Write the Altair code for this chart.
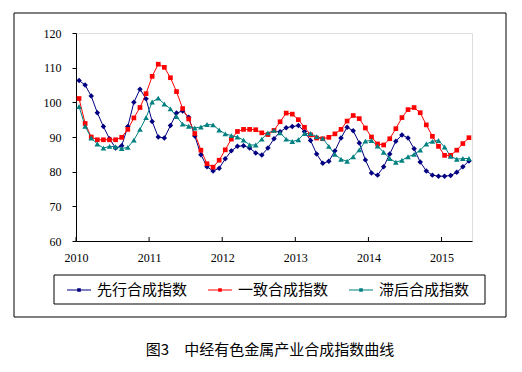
import altair as alt
import pandas as pd

years = ["2010", "2011", "2012", "2013", "2014", "2015"]
series_names = ["先行合成指数", "一致合成指数", "滞后合成指数"]
colors = ["#000080", "#FF0000", "#008080"]
shapes = ["diamond", "square", "triangle-up"]
marker_sizes = [30, 22, 32]

lead = [106.3, 105.0, 101.8, 97.0, 93.0, 89.5, 86.8, 87.5, 93.0, 100.0, 103.8, 101.0,
        94.5, 90.0, 89.7, 93.3, 96.9, 97.5, 95.7, 90.3, 84.9, 81.4, 80.2, 81.0,
        83.7, 86.0, 87.3, 87.5, 86.8, 85.4, 84.8, 86.8, 89.5, 91.5, 92.7, 93.0,
        93.3, 91.6, 89.0, 85.1, 82.4, 83.0, 86.0, 89.7, 92.8, 91.8, 88.3, 83.4,
        79.6, 79.0, 81.4, 85.1, 88.8, 90.6, 89.7, 86.6, 82.8, 80.2, 79.0, 78.7,
        78.7, 78.9, 79.8, 81.4, 83.1]
coincident = [101.1, 93.9, 90.0, 89.2, 89.2, 89.2, 89.2, 89.9, 92.2, 95.5, 98.5, 102.5,
              107.5, 111.0, 110.1, 107.1, 103.1, 98.2, 95.2, 91.0, 86.2, 82.3, 81.3, 83.3,
              86.3, 89.4, 91.6, 92.2, 92.2, 92.1, 91.2, 90.7, 91.9, 94.4, 96.9, 96.6,
              95.0, 92.8, 90.6, 89.7, 89.5, 89.9, 90.9, 92.2, 94.6, 96.2, 95.3, 92.6,
              90.0, 88.0, 87.7, 89.5, 92.4, 95.6, 97.9, 98.5, 97.0, 93.5, 90.2, 87.3,
              84.7, 84.7, 86.2, 88.1, 89.8]
lag = [98.8, 93.1, 89.7, 88.0, 86.8, 87.3, 87.2, 86.7, 87.0, 89.1, 92.2, 95.6,
       100.1, 101.2, 99.5, 98.1, 95.9, 93.7, 93.1, 92.6, 92.9, 93.6, 93.5, 92.0,
       90.9, 90.4, 90.0, 89.1, 87.7, 87.7, 89.4, 91.2, 91.9, 91.2, 89.4, 88.7,
       89.2, 91.0, 91.0, 90.1, 89.6, 87.3, 85.0, 83.6, 83.0, 84.3, 86.3, 88.8,
       89.0, 87.4, 85.6, 83.8, 82.7, 83.3, 84.3, 85.0, 86.2, 88.0, 88.75, 89.0,
       87.1, 84.4, 83.6, 83.8, 83.8]

y_ticks = [60, 70, 80, 90, 100, 110, 120]
n = len(lead)

rows = []
for name, vals in zip(series_names, [lead, coincident, lag]):
    for i, v in enumerate(vals):
        rows.append({"t": i + 0.5, "series": name, "value": v})
df = pd.DataFrame(rows)
year_pos = pd.DataFrame({"p": [12 * k for k in range(len(years))]})
one = pd.DataFrame({"k": [0]})

W, H = 396, 208
FONT = "Liberation Serif"
CJK = "Noto Sans CJK SC"

xscale = alt.Scale(domain=[0, n], nice=False, zero=False)
yscale = alt.Scale(domain=[60, 120], nice=False, zero=False)

legend = alt.Legend(
    title=None, orient="none", legendX=-10, legendY=244, direction="horizontal",
    columns=3, columnPadding=17, padding=0,
    symbolType="M-1,0H1M-0.1,-0.1H0.1V0.1H-0.1Z", symbolSize=576,
    symbolStrokeWidth=1.2, labelFont=CJK, labelFontSize=15, labelColor="black",
    labelOffset=5, labelLimit=200,
)
color = alt.Color("series:N", scale=alt.Scale(domain=series_names, range=colors),
                  legend=legend)

x_axis = alt.Axis(values=[12 * k for k in range(len(years))],
                  labelExpr="'' + (2010 + datum.value / 12)",
                  title=None, ticks=False, grid=False, labelPadding=11,
                  labelFont=FONT, labelFontSize=12, labelColor="black",
                  domainColor="black", labelFlush=False, labelOverlap=False)
y_axis = alt.Axis(values=y_ticks, title=None, grid=False, tickSize=4,
                  labelPadding=11, labelFont=FONT, labelFontSize=12,
                  labelColor="black", domainColor="black", tickColor="black",
                  labelOverlap=False)

base = alt.Chart(df)
lines = base.mark_line(strokeWidth=1).encode(
    x=alt.X("t:Q", scale=xscale, axis=x_axis),
    y=alt.Y("value:Q", scale=yscale, axis=y_axis),
    color=color,
)
point_layers = []
for name, col, shp, sz in zip(series_names, colors, shapes, marker_sizes):
    point_layers.append(
        base.transform_filter(alt.datum.series == name)
        .mark_point(filled=True, opacity=1, strokeWidth=0, shape=shp, size=sz, fill=col)
        .encode(
            x=alt.X("t:Q", scale=xscale, axis=x_axis),
            y=alt.Y("value:Q", scale=yscale, axis=y_axis),
        )
    )
xticks = alt.Chart(year_pos).mark_rule(color="black", strokeWidth=1).encode(
    x=alt.X("p:Q", scale=xscale, axis=x_axis),
    y=alt.value(H),
    y2=alt.value(H - 4),
)
frame = alt.Chart(one).mark_rect(fillOpacity=0, stroke="black", strokeWidth=1).encode(
    x=alt.value(-62), x2=alt.value(430), y=alt.value(-20), y2=alt.value(284),
)
legend_box = alt.Chart(one).mark_rect(fillOpacity=0, stroke="black", strokeWidth=1).encode(
    x=alt.value(-22), x2=alt.value(409), y=alt.value(242), y2=alt.value(271),
)

chart = alt.layer(frame, legend_box, xticks, lines, *point_layers).properties(
    width=W, height=H,
    autosize=alt.AutoSizeParams(type="none"),
    padding={"left": 68, "top": 25, "right": 42, "bottom": 123},
    title=alt.TitleParams(
        text="图3　中经有色金属产业合成指数曲线", orient="bottom", offset=25,
        font=CJK, fontSize=15, fontWeight="normal", color="black",
        anchor="middle", dx=-4,
    ),
).configure_view(stroke=None).configure_axis(labelOverlap=False).configure(background="white")

chart.save("out.html", embed_options={"renderer": "svg", "actions": False})
